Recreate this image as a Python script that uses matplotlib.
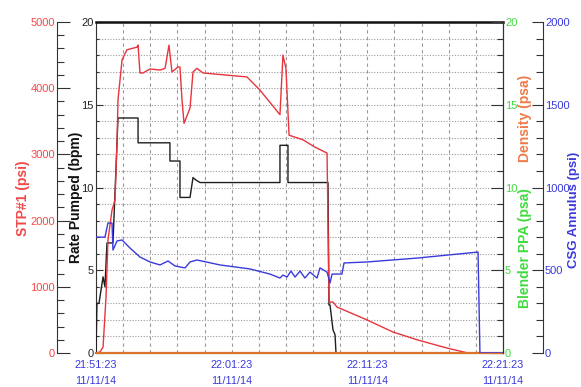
import matplotlib

matplotlib.use("Agg")

import matplotlib.pyplot as plt  # noqa: E402
from matplotlib.ticker import MultipleLocator  # noqa: E402

# Tid i minuter efter 21:51:23
STP_T = [0.0, 0.29, 0.52, 0.74, 0.88, 1.18, 1.40, 1.55, 1.62, 1.92, 2.28, 3.02, 3.10,
         3.24, 3.46, 3.98, 4.72, 5.09, 5.38, 5.60, 6.04, 6.19, 6.34, 6.49, 6.93, 7.15,
         7.44, 7.89, 9.51, 11.13, 12.09, 13.56, 13.78, 14.00, 14.23, 15.26, 16.14,
         17.03, 17.18, 17.47, 17.76, 19.97, 21.89, 23.73, 25.87, 27.42, 30.0]
STP_PSI = [0, 15, 90, 850, 1700, 2160, 2310, 3170, 3820, 4430, 4580, 4620, 4650,
           4230, 4230, 4290, 4275, 4300, 4650, 4245, 4320, 4320, 3820, 3470, 3700, 4245,
           4300, 4230, 4200, 4170, 3970, 3600, 4500, 4300, 3290, 3220, 3110,
           3020, 770, 770, 695, 500, 317, 196, 75, 0, 0]

RATE_T = [0.0, 0.07, 0.22, 0.52, 0.66, 0.81, 1.25, 1.47, 1.62, 3.10, 3.10, 5.45, 5.45,
          6.19, 6.19, 6.93, 7.15, 7.37, 7.67, 13.56, 13.56, 14.15, 14.15, 17.10, 17.17,
          17.25, 17.47, 17.62, 17.69, 30.0]
RATE_BPM = [0.0, 3.0, 3.0, 4.6, 4.0, 6.65, 6.65, 11.1, 14.2, 14.2, 12.7, 12.7, 11.6,
            11.6, 9.4, 9.4, 10.6, 10.45, 10.3, 10.3, 12.55, 12.55, 10.3, 10.3, 2.9,
            2.9, 1.4, 1.1, 0.0, 0.0]

CSG_T = [0.0, 0.66, 0.88, 1.18, 1.25, 1.55, 1.92, 2.51, 3.24, 3.98, 4.72, 5.31, 5.82,
         6.56, 6.93, 7.44, 9.14, 11.35, 12.82, 13.56, 13.78, 14.08, 14.37, 14.67, 15.04,
         15.40, 15.77, 16.29, 16.51, 17.03, 17.25, 17.40, 18.13, 18.28, 19.97, 23.73,
         28.16, 28.30, 30.0]
CSG_PSI = [700, 700, 785, 785, 622, 677, 683, 634, 580, 550, 532, 556, 526,
           514, 550, 562, 532, 508, 477, 453, 471, 459, 495, 459, 495,
           453, 489, 453, 514, 489, 423, 477, 477, 544, 550, 574,
           610, 0, 0]

DENS_T = [0.0, 30.0]
DENSITY = [0.0, 0.0]
PPA = [0.0, 0.0]

X_TICKS = [0, 10, 20, 30]
X_LABELS = ["21:51:23\n11/11/14", "22:01:23\n11/11/14",
            "22:11:23\n11/11/14", "22:21:23\n11/11/14"]

RED = "#e8343c"
RED_TXT = "#f04a4a"
BLUE = "#3a3adc"
GREEN = "#3fdc3f"
ORANGE = "#ee7a48"
SPINE = "#333333"
FONT = ["Liberation Sans", "DejaVu Sans"]

W, H = 581, 387
fig = plt.figure(figsize=(W / 100, H / 100), dpi=100)
ax = fig.add_axes([96 / W, 34 / H, 407 / W, 331 / H])


def _style_ticks(axis_obj, color, direction, major_len, minor_len):
    axis_obj.tick_params(axis="y", which="major", direction=direction, length=major_len,
                         width=0.8, color=SPINE, labelcolor=color, labelsize=8, pad=1.5)
    axis_obj.tick_params(axis="y", which="minor", direction=direction, length=minor_len,
                         width=0.8, color=SPINE)
    for lab in axis_obj.get_yticklabels():
        lab.set_family(FONT)


# Huvudaxel: Rate Pumped
ax.set_xlim(0, 30)
ax.set_ylim(0, 20)
ax.yaxis.set_major_locator(MultipleLocator(5))
ax.yaxis.set_minor_locator(MultipleLocator(1))
ax.xaxis.set_minor_locator(MultipleLocator(2))
ax.set_xticks(X_TICKS)
ax.set_xticklabels(X_LABELS, color=BLUE, fontsize=7.8, family=FONT, linespacing=1.7)
ax.tick_params(axis="x", which="both", length=0, pad=5)
ax.grid(True, axis="x", which="both", linestyle=(0, (3, 3)), color="#9a9a9a", linewidth=0.8)
ax.grid(True, axis="y", which="both", linestyle=(0, (1, 1.5)), color="#9a9a9a", linewidth=0.8)
ax.set_axisbelow(True)
_style_ticks(ax, "#222222", "in", 5, 2.5)
ax.plot(RATE_T, RATE_BPM, color="#1e1e1e", linewidth=1.0, zorder=3)
ax.spines["top"].set_linewidth(1.8)
ax.spines["top"].set_color("#111111")
ax.spines["left"].set_color(SPINE)
ax.spines["right"].set_color(SPINE)
ax.spines["bottom"].set_color("#888888")

# STP#1
ax_stp = ax.twinx()
ax_stp.set_ylim(0, 5000)
ax_stp.spines["left"].set_position(("axes", (57 - 96) / 407))
ax_stp.spines["left"].set_visible(True)
ax_stp.spines["left"].set_color(SPINE)
for side in ("right", "top", "bottom"):
    ax_stp.spines[side].set_visible(False)
ax_stp.yaxis.set_ticks_position("left")
ax_stp.yaxis.set_major_locator(MultipleLocator(1000))
ax_stp.yaxis.set_minor_locator(MultipleLocator(200))
_style_ticks(ax_stp, RED_TXT, "in", 9, 5)
ax_stp.plot(STP_T, STP_PSI, color=RED, linewidth=1.0, zorder=3)

# Density / Blender PPA
ax_ppa = ax.twinx()
ax_ppa.set_ylim(0, 20)
for side in ("left", "top", "bottom"):
    ax_ppa.spines[side].set_visible(False)
ax_ppa.spines["right"].set_color(SPINE)
ax_ppa.yaxis.set_major_locator(MultipleLocator(5))
ax_ppa.yaxis.set_minor_locator(MultipleLocator(1))
_style_ticks(ax_ppa, GREEN, "in", 9, 4)
ax_ppa.plot(DENS_T, PPA, color=GREEN, linewidth=1.2)
ax_ppa.plot(DENS_T, DENSITY, color="#d9742f", linewidth=1.6, clip_on=False)

# CSG Annulus
ax_csg = ax.twinx()
ax_csg.set_ylim(0, 2000)
for side in ("left", "top", "bottom"):
    ax_csg.spines[side].set_visible(False)
ax_csg.spines["right"].set_position(("axes", (543 - 96) / 407))
ax_csg.spines["right"].set_color(SPINE)
ax_csg.yaxis.set_major_locator(MultipleLocator(500))
ax_csg.yaxis.set_minor_locator(MultipleLocator(100))
_style_ticks(ax_csg, BLUE, "in", 8, 5)
ax_csg.plot(CSG_T, CSG_PSI, color=BLUE, linewidth=1.0)

for a in (ax_stp, ax_ppa, ax_csg):
    a.patch.set_visible(False)
    a.set_xlim(0, 30)

# Axeltitlar
label_kw = dict(rotation=90, ha="center", va="center", fontsize=10,
                fontweight="bold", family=FONT)
fig.text(23 / W, 1 - 198 / H, "STP#1 (psi)", color=RED_TXT, **label_kw)
fig.text(76 / W, 1 - 197 / H, "Rate Pumped (bpm)", color="#111111", **label_kw)
fig.text(525 / W, 1 - 118 / H, "Density (psa)", color=ORANGE, **label_kw)
fig.text(525 / W, 1 - 248 / H, "Blender PPA (psa)", color=GREEN, **label_kw)
label_kw["fontsize"] = 9.5
fig.text(574 / W, 1 - 210 / H, "CSG Annulus (psi)", color=BLUE, **label_kw)

fig.savefig("out.png", dpi=100)
